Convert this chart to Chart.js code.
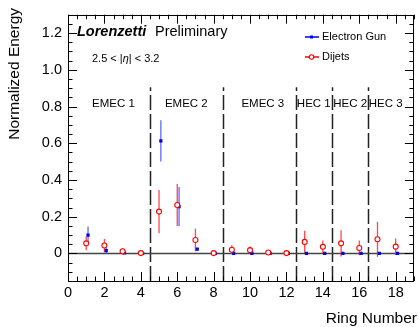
<!DOCTYPE html>
<html lang="en">
<head>
  <meta charset="UTF-8">
  <title>Ring energy profile</title>
  <script src="https://cdn.jsdelivr.net/npm/chart.js"></script>
  <style>
    body {
      margin: 0;
      background: #ffffff;
    }
    canvas {
      display: block;
    }
  </style>
</head>
<body>

<canvas id="ringChart" width="419" height="327"></canvas>

<script>
  // Data
  const rings = [1, 2, 3, 4, 5, 6, 7, 8, 9, 10, 11, 12, 13, 14, 15, 16, 17, 18];

  const electronGun = [0.100, 0.016, 0.003, 0.001, 0.613, 0.255, 0.023, 0.001, 0.0, 0.0,
                       0.0, 0.0, 0.0, 0.0, 0.0, 0.0, 0.0, 0.0];
  const electronGunErr = [0.047, 0.017, 0.004, 0.002, 0.112, 0.107, 0.005, 0.002, 0.001, 0.001,
                          0.001, 0.001, 0.001, 0.001, 0.001, 0.001, 0.001, 0.001];

  const dijets = [0.055, 0.043, 0.012, 0.002, 0.228, 0.264, 0.073, 0.002, 0.020, 0.018,
                  0.005, 0.002, 0.063, 0.036, 0.055, 0.030, 0.077, 0.037];
  const dijetsErr = [0.037, 0.036, 0.017, 0.003, 0.118, 0.114, 0.062, 0.003, 0.025, 0.020,
                     0.006, 0.003, 0.060, 0.035, 0.072, 0.040, 0.095, 0.045];

  const regionNames = ['EMEC 1', 'EMEC 2', 'EMEC 3', 'HEC 1', 'HEC 2', 'HEC 3'];
  const regionCenters = [2.5, 6.5, 10.7, 13.5, 15.5, 17.45];
  const regionBounds = [4.5, 8.5, 12.5, 14.5, 16.5];

  const FONT = "'Liberation Sans', Arial, sans-serif";
  const BLUE = '#0000ee';
  const RED = '#ff0000';
  const gunOffset = 0.1;   // blue points sit slightly right of the ring number

  const gunPoints = rings.map((r, i) => ({ x: r + gunOffset, y: electronGun[i], err: electronGunErr[i] }));
  const dijetPoints = rings.map((r, i) => ({ x: r, y: dijets[i], err: dijetsErr[i] }));

  // zero line, region separators, error bars (under the markers)
  const underlayPlugin = {
    id: 'underlay',
    beforeDatasetsDraw(chart) {
      const ctx = chart.ctx;
      const xs = chart.scales.x, ys = chart.scales.y;
      const area = chart.chartArea;
      ctx.save();

      // dashed region boundaries
      ctx.strokeStyle = '#222';
      ctx.lineWidth = 1.5;
      ctx.setLineDash([15, 4]);
      regionBounds.forEach(b => {
        const px = Math.round(xs.getPixelForValue(b)) + 0.5;
        ctx.beginPath();
        ctx.moveTo(px, area.bottom);
        ctx.lineTo(px, ys.getPixelForValue(0.905));
        ctx.stroke();
      });
      ctx.setLineDash([]);

      // zero line
      ctx.strokeStyle = '#444';
      ctx.lineWidth = 1.6;
      const y0 = ys.getPixelForValue(0);
      ctx.beginPath();
      ctx.moveTo(area.left, y0);
      ctx.lineTo(area.right, y0);
      ctx.stroke();

      // error bars
      const drawErr = (pts, color) => {
        ctx.strokeStyle = color;
        ctx.lineWidth = 1.3;
        pts.forEach(p => {
          if (p.err < 0.004) return;
          const px = xs.getPixelForValue(p.x);
          ctx.beginPath();
          ctx.moveTo(px, ys.getPixelForValue(p.y - p.err));
          ctx.lineTo(px, ys.getPixelForValue(p.y + p.err));
          ctx.stroke();
        });
      };
      drawErr(dijetPoints, 'rgba(255, 40, 40, 0.85)');
      drawErr(gunPoints, 'rgba(50, 70, 255, 0.8)');

      // region labels
      ctx.fillStyle = '#000';
      ctx.font = '11.5px ' + FONT;
      ctx.textAlign = 'center';
      ctx.textBaseline = 'middle';
      regionNames.forEach((name, i) => {
        ctx.fillText(name, xs.getPixelForValue(regionCenters[i]), ys.getPixelForValue(0.815));
      });

      ctx.restore();
    }
  };

  // ROOT-like frame, ticks, titles and legend
  const framePlugin = {
    id: 'frame',
    afterDraw(chart) {
      const ctx = chart.ctx;
      const xs = chart.scales.x, ys = chart.scales.y;
      const a = chart.chartArea;
      ctx.save();
      ctx.strokeStyle = '#000';
      ctx.lineWidth = 1;

      ctx.strokeRect(Math.round(a.left) + 0.5, Math.round(a.top) + 0.5,
                     Math.round(a.right - a.left) - 1, Math.round(a.bottom - a.top));

      ctx.beginPath();
      for (let v = 0; v <= 19.001; v += 0.5) {
        const px = Math.round(xs.getPixelForValue(v)) + 0.5;
        const len = Math.abs(v % 2) < 1e-6 ? 9 : 4.5;
        ctx.moveTo(px, a.bottom); ctx.lineTo(px, a.bottom - len);
        ctx.moveTo(px, a.top); ctx.lineTo(px, a.top + len);
      }
      for (let k = -3; k <= 26; k++) {
        const v = k * 0.05;
        const py = Math.round(ys.getPixelForValue(v)) + 0.5;
        const len = k % 4 === 0 ? 9 : 4.5;
        ctx.moveTo(a.left, py); ctx.lineTo(a.left + len, py);
        ctx.moveTo(a.right, py); ctx.lineTo(a.right - len, py);
      }
      ctx.stroke();

      // axis titles
      ctx.fillStyle = '#000';
      ctx.font = '15.5px ' + FONT;
      ctx.textAlign = 'right';
      ctx.textBaseline = 'middle';
      ctx.fillText('Ring Number', 417, 319);
      ctx.save();
      ctx.translate(15, 8);
      ctx.rotate(-Math.PI / 2);
      ctx.fillText('Normalized Energy', 0, 0);
      ctx.restore();

      // Lorenzetti Preliminary
      ctx.textAlign = 'left';
      ctx.font = 'italic bold 14.5px ' + FONT;
      ctx.fillText('Lorenzetti', 77, 32);
      ctx.font = '14.5px ' + FONT;
      ctx.fillText('Preliminary', 155, 32);

      // eta range
      let tx = 92;
      const parts = [['2.5 < |', ''], ['\u03b7', 'italic '], ['| < 3.2', '']];
      parts.forEach(([s, st]) => {
        ctx.font = st + '11px ' + FONT;
        ctx.fillText(s, tx, 59);
        tx += ctx.measureText(s).width;
      });

      // legend
      const legend = [['Electron Gun', BLUE, 'rect', 37], ['Dijets', RED, 'circle', 57]];
      legend.forEach(([label, color, shape, ly]) => {
        ctx.strokeStyle = color;
        ctx.lineWidth = 1.5;
        ctx.beginPath();
        ctx.moveTo(305, ly); ctx.lineTo(319, ly);
        ctx.stroke();
        if (shape === 'rect') {
          ctx.fillStyle = color;
          ctx.fillRect(310, ly - 1.5, 3, 3);
        } else {
          ctx.fillStyle = '#fff';
          ctx.beginPath();
          ctx.arc(311.5, ly, 2.2, 0, Math.PI * 2);
          ctx.fill();
          ctx.lineWidth = 1.1;
          ctx.stroke();
        }
        ctx.fillStyle = '#000';
        ctx.font = '11px ' + FONT;
        ctx.fillText(label, 322, ly);
      });

      ctx.restore();
    }
  };

  new Chart(document.getElementById('ringChart').getContext('2d'), {
    type: 'scatter',
    data: {
      datasets: [
        {
          label: 'Dijets',
          data: dijetPoints,
          pointStyle: 'circle',
          pointRadius: 2.5,
          pointBorderWidth: 1.1,
          borderColor: RED,
          backgroundColor: '#ffffff',
          showLine: false
        },
        {
          label: 'Electron Gun',
          data: gunPoints,
          pointStyle: 'rect',
          pointRadius: 2.3,
          pointBorderWidth: 0,
          borderColor: BLUE,
          backgroundColor: BLUE,
          showLine: false
        }
      ]
    },
    options: {
      responsive: false,
      animation: false,
      devicePixelRatio: 1,
      layout: { padding: { top: 8, right: 2, left: 0, bottom: 0 } },
      plugins: {
        legend: { display: false },
        tooltip: { enabled: false }
      },
      scales: {
        x: {
          type: 'linear',
          min: 0,
          max: 19,
          grid: { display: false, drawTicks: false },
          border: { display: false },
          ticks: {
            stepSize: 2,
            includeBounds: false,
            padding: 3,
            color: '#000',
            font: { family: FONT, size: 14.5 },
            maxRotation: 0
          },
          afterFit(scale) { scale.height = 46; }
        },
        y: {
          type: 'linear',
          min: -0.15,
          max: 1.3,
          grid: { display: false, drawTicks: false },
          border: { display: false },
          ticks: {
            stepSize: 0.2,
            includeBounds: false,
            padding: 6,
            color: '#000',
            font: { family: FONT, size: 14.5 }
          },
          afterFit(scale) { scale.width = 68; }
        }
      }
    },
    plugins: [underlayPlugin, framePlugin]
  });
</script>

</body>
</html>
